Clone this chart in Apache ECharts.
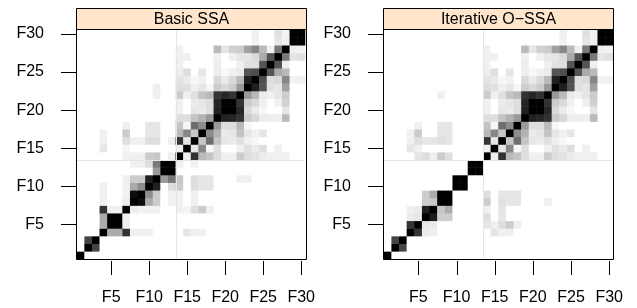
<!DOCTYPE html>
<html>
<head>
<meta charset="utf-8">
<script src="https://cdn.jsdelivr.net/npm/echarts@6/dist/echarts.min.js"></script>
<style>
  html, body { margin: 0; padding: 0; background: #fff; }
  .panel { height: 308px; float: left; }
  #p0 { width: 318px; }
  #p1 { width: 319px; }
</style>
</head>
<body>
<div id="p0" class="panel"></div><div id="p1" class="panel"></div>
<script>
// components and ticks
const comps = ['F1','F2','F3','F4','F5','F6','F7','F8','F9','F10',
  'F11','F12','F13','F14','F15','F16','F17','F18','F19','F20',
  'F21','F22','F23','F24','F25','F26','F27','F28','F29','F30'];
const tickLabels = ['F5','F10','F15','F20','F25','F30'];
const panelTitles = ['Basic SSA', 'Iterative O\u2212SSA'];
const groupEnd = 13; // last component of the first group

// w-correlations, lower triangle, rows F1..F13 (cols F1..Fi)
const basicLow = [
  [1],
  [0, 1],
  [0, .73, 1],
  [0, 0, 0, 1],
  [0, 0, 0, .33, 1],
  [0, 0, 0, .33, 1, 1],
  [0, 0, 0, .8, .06, .06, 1],
  [0, 0, 0, .06, 0, 0, .07, 1],
  [0, 0, 0, .06, 0, 0, .05, .95, 1],
  [0, 0, 0, .06, 0, 0, .06, .33, .45, 1],
  [0, 0, 0, 0, 0, 0, .06, .2, .2, .87, 1],
  [0, 0, 0, 0, 0, 0, 0, 0, 0, 0, .4, 1],
  [0, 0, 0, 0, 0, 0, 0, .06, .06, .13, .53, 1, 1]
];
const isoLow = [
  [1],
  [0, 1],
  [0, .73, 1],
  [0, 0, 0, 1],
  [0, 0, 0, .8, 1],
  [0, 0, 0, .08, .1, 1],
  [0, 0, 0, .06, .08, .88, 1],
  [0, 0, 0, 0, 0, .2, .22, 1],
  [0, 0, 0, 0, 0, .2, .33, 1, 1],
  [0, 0, 0, 0, 0, 0, 0, 0, 0, 1],
  [0, 0, 0, 0, 0, 0, 0, 0, 0, 1, 1],
  [0, 0, 0, 0, 0, 0, 0, 0, 0, 0, 0, 1],
  [0, 0, 0, 0, 0, 0, 0, 0, 0, 0, 0, 1, 1]
];

// rows F14..F30 against cols F1..F13
const basicCross = [
  [0, 0, 0, 0, 0, 0, .06, .06, .06, .2, .22, 0, .06],
  [0, 0, 0, .1, 0, 0, .04, 0, 0, 0, 0, 0, 0],
  [0, 0, 0, .06, 0, 0, .13, .06, .06, .13, .13, 0, .06],
  [0, 0, 0, .06, 0, 0, .2, 0, 0, .1, .1, 0, 0],
  [0, 0, 0, 0, 0, 0, .06, 0, 0, .1, .1, 0, 0],
  [0, 0, 0, 0, 0, 0, 0, 0, 0, 0, 0, 0, 0],
  [0, 0, 0, 0, 0, 0, 0, 0, 0, 0, 0, 0, 0],
  [0, 0, 0, 0, 0, 0, 0, 0, 0, 0, 0, 0, 0],
  [0, 0, 0, 0, 0, 0, 0, 0, 0, 0, .06, 0, 0],
  [0, 0, 0, 0, 0, 0, 0, 0, 0, 0, .06, 0, 0],
  [0, 0, 0, 0, 0, 0, 0, 0, 0, 0, 0, 0, 0],
  [0, 0, 0, 0, 0, 0, 0, 0, 0, 0, 0, 0, 0],
  [0, 0, 0, 0, 0, 0, 0, 0, 0, 0, 0, 0, 0],
  [0, 0, 0, 0, 0, 0, 0, 0, 0, 0, 0, 0, 0],
  [0, 0, 0, 0, 0, 0, 0, 0, 0, 0, 0, 0, 0],
  [0, 0, 0, 0, 0, 0, 0, 0, 0, 0, 0, 0, 0],
  [0, 0, 0, 0, 0, 0, 0, 0, 0, 0, 0, 0, 0]
];
const isoCross = [
  [0, 0, 0, 0, .1, .13, .06, .2, .13, 0, 0, 0, 0],
  [0, 0, 0, .1, .06, 0, 0, 0, 0, 0, 0, 0, 0],
  [0, 0, 0, .06, .13, .1, .1, .12, .1, 0, 0, 0, 0],
  [0, 0, 0, .06, .2, 0, 0, .1, .1, 0, 0, 0, 0],
  [0, 0, 0, 0, .06, 0, 0, .1, .1, 0, 0, 0, 0],
  [0, 0, 0, 0, 0, 0, 0, 0, 0, 0, 0, 0, 0],
  [0, 0, 0, 0, 0, 0, 0, 0, 0, 0, 0, 0, 0],
  [0, 0, 0, 0, 0, 0, 0, 0, 0, 0, 0, 0, 0],
  [0, 0, 0, 0, 0, 0, 0, .06, 0, 0, 0, 0, 0],
  [0, 0, 0, 0, 0, 0, 0, 0, 0, 0, 0, 0, 0],
  [0, 0, 0, 0, 0, 0, 0, 0, 0, 0, 0, 0, 0],
  [0, 0, 0, 0, 0, 0, 0, 0, 0, 0, 0, 0, 0],
  [0, 0, 0, 0, 0, 0, 0, 0, 0, 0, 0, 0, 0],
  [0, 0, 0, 0, 0, 0, 0, 0, 0, 0, 0, 0, 0],
  [0, 0, 0, 0, 0, 0, 0, 0, 0, 0, 0, 0, 0],
  [0, 0, 0, 0, 0, 0, 0, 0, 0, 0, 0, 0, 0],
  [0, 0, 0, 0, 0, 0, 0, 0, 0, 0, 0, 0, 0]
];

// rows F14..F30 against cols F14..Fi (same in both panels)
const highBlock = [
  [1],
  [.06, 1],
  [.8, .1, 1],
  [.27, .47, .22, 1],
  [.23, .03, .57, .45, 1],
  [.13, .13, .23, .3, .4, 1],
  [.06, 0, .1, .08, .13, .87, 1],
  [.06, 0, .08, .1, .13, .85, 1, 1],
  [.2, .06, .12, .23, .27, .8, .85, .8, 1],
  [.13, .12, .06, .1, .03, .2, .15, .2, .4, 1],
  [.11, .08, .03, .05, 0, .15, .08, .15, .27, .88, 1],
  [.07, .13, 0, .1, 0, .07, .03, .06, .08, .67, .7, 1],
  [.06, 0, 0, 0, 0, .07, 0, 0, .06, .12, .13, .67, 1],
  [.06, .06, 0, 0, 0, .06, 0, .06, .1, .1, .15, .33, .67, 1],
  [.06, 0, 0, 0, 0, .27, .1, .18, .2, .37, .47, .27, .06, .53, 1],
  [0, 0, 0, 0, 0, 0, 0, 0, 0, 0, .05, 0, 0, .1, .06, 1],
  [0, 0, 0, 0, 0, 0, 0, 0, 0, 0, .06, 0, 0, .12, .05, 1, 1]
];

// lower triangle -> full symmetric [x, y, value] list
const buildCells = (low, cross) => {
  const cells = [];
  for (let i = 0; i < comps.length; i++) {
    const row = i < groupEnd ? low[i] : cross[i - groupEnd].concat(highBlock[i - groupEnd]);
    row.forEach((v, j) => {
      cells.push([j, i, v]);
      if (j !== i) cells.push([i, j, v]);
    });
  }
  return cells;
};
const panels = [buildCells(basicLow, basicCross), buildCells(isoLow, isoCross)];
const tickIdx = tickLabels.map(name => [comps.indexOf(name), 0]);

const FONT = 'Liberation Sans, Arial, Helvetica, sans-serif';
const gridLefts = [77, 66]; // inside each panel's own div
const TOP = 30, SIZE = 229;

const showTick = (idx, name) => tickLabels.includes(name);

const makeAxis = (margin, withTicks) => ({
  type: 'category', data: comps, z: 10,
  axisLine: { show: false },
  axisTick: { show: withTicks, alignWithLabel: true, length: 16, interval: showTick,
    lineStyle: { color: '#000', width: 1 } },
  axisLabel: { interval: showTick, margin: margin, color: '#000', fontSize: 16, fontFamily: FONT },
  splitLine: { show: false }
});

// light lines on the band boundary after the last component of group 1
const renderSplit = (params, api) => {
  const cs = params.coordSys;
  const band = api.size([1, 1]);
  const c = api.coord([api.value(0), api.value(1)]);
  const x = Math.round(c[0] + band[0] / 2) + 0.5;
  const y = Math.round(c[1] - band[1] / 2) + 0.5;
  const st = { stroke: '#e5e5e5', lineWidth: 1 };
  return {
    type: 'group', children: [
      { type: 'line', shape: { x1: x, y1: cs.y, x2: x, y2: cs.y + cs.height }, style: st },
      { type: 'line', shape: { x1: cs.x, y1: y, x2: cs.x + cs.width, y2: y }, style: st }
    ]
  };
};

// bottom tick marks at the labelled categories
const renderTick = (params, api) => {
  const cs = params.coordSys;
  const c = api.coord([api.value(0), 0]);
  const x = Math.round(c[0]) + 0.5;
  const y0 = cs.y + cs.height;
  return {
    type: 'line',
    shape: { x1: x, y1: y0 + 2, x2: x, y2: y0 + 16 },
    style: { stroke: '#000', lineWidth: 1 }
  };
};

panels.forEach((cells, p) => {
  const left = gridLefts[p];
  const chart = echarts.init(document.getElementById('p' + p));
  chart.setOption({
    animation: false,
    grid: { left: left, top: TOP, width: SIZE, height: SIZE },
    xAxis: makeAxis(31, false),
    yAxis: makeAxis(33, true),
    visualMap: {
      type: 'continuous', show: false, min: 0, max: 1, seriesIndex: 0,
      inRange: { color: ['#ffffff', '#000000'] }
    },
    series: [
      { type: 'heatmap', data: cells, silent: true, itemStyle: { borderWidth: 0 }, emphasis: { disabled: true } },
      { type: 'custom', silent: true, z: 3, data: [[groupEnd - 1, groupEnd - 1]], renderItem: renderSplit },
      { type: 'custom', silent: true, z: 3, clip: false, data: tickIdx, renderItem: renderTick }
    ],
    graphic: [
      { type: 'rect', z: 100,
        shape: { x: left - 0.5, y: 8.5, width: SIZE + 1, height: 21 },
        style: { fill: '#FFE5CC', stroke: '#000', lineWidth: 1 } },
      { type: 'text', z: 101,
        style: { text: panelTitles[p], x: left + SIZE / 2, y: 19.5, align: 'center', verticalAlign: 'middle',
          fill: '#000', font: '16px ' + FONT } },
      { type: 'rect', z: 100,
        shape: { x: left - 0.5, y: TOP - 0.5, width: SIZE + 1, height: SIZE + 1 },
        style: { fill: 'none', stroke: '#000', lineWidth: 1 } }
    ]
  });
});
</script>
</body>
</html>
